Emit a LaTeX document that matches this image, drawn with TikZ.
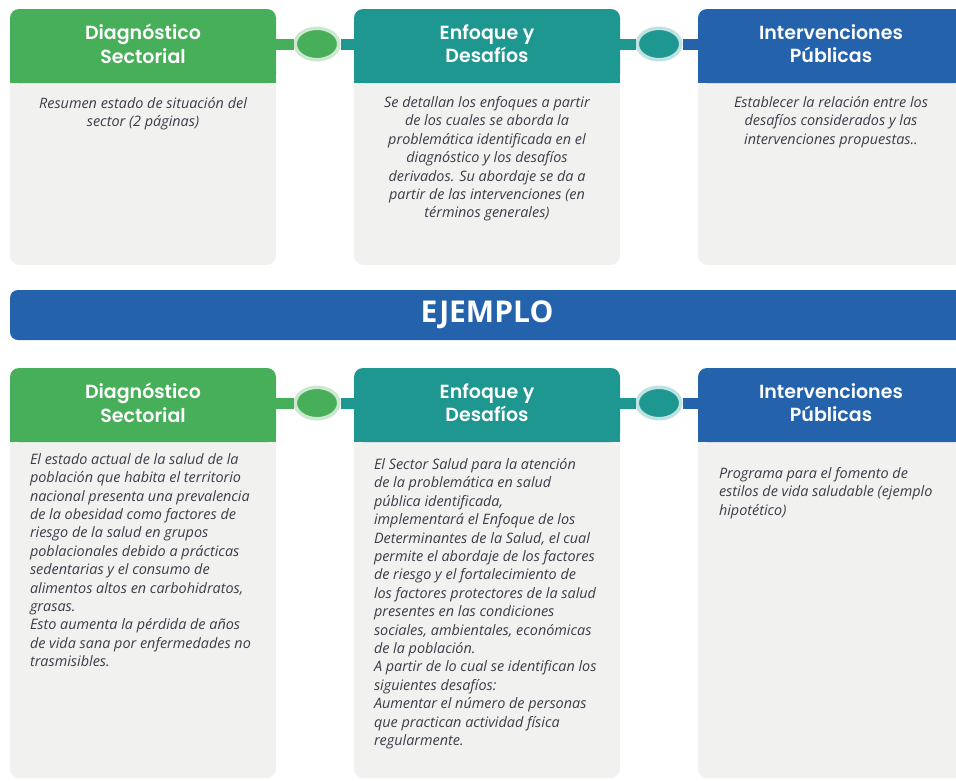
\documentclass[tikz,border=0pt]{standalone}
\usepackage{fontspec}
\setmainfont{Open Sans}
\newfontfamily\mtheadfont{Poppins}[BoldFont={Poppins SemiBold}]
\usepackage{tikz}
\usetikzlibrary{positioning,shapes.geometric}
\definecolor{mtgreen}{HTML}{47AE5A}
\definecolor{mtteal}{HTML}{1F9791}
\definecolor{mtblue}{HTML}{2462AC}
\definecolor{mtgray}{HTML}{F1F1F0}
\definecolor{mttext}{HTML}{3C3C48}
\definecolor{mtgreenhalo}{HTML}{CDE8D0}
\definecolor{mttealhalo}{HTML}{BFE3E3}
\tikzset{
 mt head/.style={fill=#1,rounded corners=9pt,minimum width=266pt,minimum height=74pt,
                 inner sep=0pt,text=white,align=center,text depth=5pt,
                 font=\mtheadfont\bfseries\fontsize{19}{23.5}\selectfont},
 mt body/.style={fill=mtgray,rounded corners=10pt,minimum width=266pt,inner sep=0pt,anchor=north},
 mt text/.style={inner sep=0pt,text=mttext,font=\itshape\fontsize{14.4}{18.4}\selectfont},
 mt bar/.style={line width=11pt,#1},
 mt knot/.style={ellipse,fill=#1,minimum width=43.5pt,minimum height=31.5pt,
                 inner sep=0pt,line width=3.5pt}
}

\begin{document}
\begin{tikzpicture}[x=1pt,y=-1pt]
 \useasboundingbox (0,0) rectangle (956,780);
 \clip (0,0) rectangle (956,780);

 \node[mt body,minimum height=219pt] (b1) at (143,46) {};
 \node[mt body,minimum height=219pt] (b2) at (487,46) {};
 \node[mt body,minimum height=219pt] (b3) at (831,46) {};
 \node[mt body,minimum height=373pt] (b4) at (143,405) {};
 \node[mt body,minimum height=373pt] (b5) at (487,405) {};
 \node[mt body,minimum height=373pt] (b6) at (831,405) {};

 \node[mt head=mtgreen] (h1) at (143,46) {Diagnóstico\\Sectorial};
 \node[mt head=mtteal] (h2) at (487,46) {Enfoque y\\Desafíos};
 \node[mt head=mtblue] (h3) at (831,46) {Intervenciones\\Públicas};
 \node[mt head=mtgreen] (h4) at (143,405) {Diagnóstico\\Sectorial};
 \node[mt head=mtteal] (h5) at (487,405) {Enfoque y\\Desafíos};
 \node[mt head=mtblue] (h6) at (831,405) {Intervenciones\\Públicas};
 \fill[mtgreen] ([yshift=12pt]h1.south west) rectangle (h1.south east);
 \fill[mtteal] ([yshift=12pt]h2.south west) rectangle (h2.south east);
 \fill[mtblue] ([yshift=12pt]h3.south west) rectangle (h3.south east);
 \fill[mtgreen] ([yshift=12pt]h4.south west) rectangle (h4.south east);
 \fill[mtteal] ([yshift=12pt]h5.south west) rectangle (h5.south east);
 \fill[mtblue] ([yshift=12pt]h6.south west) rectangle (h6.south east);

 \node[mt knot=mtgreen,draw=mtgreenhalo] (k1) at (317,44) {};
 \node[mt knot=mtteal,draw=mttealhalo] (k2) at (659,44) {};
 \node[mt knot=mtgreen,draw=mtgreenhalo] (k3) at (317,403) {};
 \node[mt knot=mtteal,draw=mttealhalo] (k4) at (659,403) {};
 \draw[mt bar=mtgreen] (h1.east |- k1) -- (k1.west);
 \draw[mt bar=mtteal] (k1.east) -- (h2.west |- k1);
 \draw[mt bar=mtteal] (h2.east |- k2) -- (k2.west);
 \draw[mt bar=mtblue] (k2.east) -- (h3.west |- k2);
 \draw[mt bar=mtgreen] (h4.east |- k3) -- (k3.west);
 \draw[mt bar=mtteal] (k3.east) -- (h5.west |- k3);
 \draw[mt bar=mtteal] (h5.east |- k4) -- (k4.west);
 \draw[mt bar=mtblue] (k4.east) -- (h6.west |- k4);

 \node[fill=mtblue,rounded corners=8pt,minimum width=954pt,minimum height=50pt,text=white,
       font=\bfseries\fontsize{30}{32}\selectfont] (ej) at (487,315) {EJEMPLO};

 \node[mt text,align=center,below=14pt of h1] (t1) {Resumen estado de situación del\\sector (2 páginas)};
 \node[mt text,align=center,below=13pt of h2] (t2) {Se detallan los enfoques a partir\\de los cuales se aborda la\\problemática identificada en el\\diagnóstico y los desafíos\\derivados. Su abordaje se da a\\partir de las intervenciones (en\\términos generales)};
 \node[mt text,align=center,below=13pt of h3] (t3) {Establecer la relación entre los\\desafíos considerados y las\\intervenciones propuestas..};

 \node[mt text,align=left,below right=11pt and 20pt of h4.south west] (t4) {El estado actual de la salud de la\\población que habita el territorio\\nacional presenta una prevalencia\\de la obesidad como factores de\\riesgo de la salud en grupos\\poblacionales debido a prácticas\\sedentarias y el consumo de\\alimentos altos en carbohidratos,\\grasas.\\Esto aumenta la pérdida de años\\de vida sana por enfermedades no\\trasmisibles.};
 \node[mt text,align=left,below right=16pt and 20pt of h5.south west] (t5) {El Sector Salud para la atención\\de la problemática en salud\\pública identificada,\\implementará el Enfoque de los\\Determinantes de la Salud, el cual\\permite el abordaje de los factores\\de riesgo y el fortalecimiento de\\los factores protectores de la salud\\presentes en las condiciones\\sociales, ambientales, económicas\\de la población.\\A partir de lo cual se identifican los\\siguientes desafíos:\\Aumentar el número de personas\\que practican actividad física\\regularmente.};
 \node[mt text,align=left,below right=25pt and 21pt of h6.south west] (t6) {Programa para el fomento de\\estilos de vida saludable (ejemplo\\hipotético)};
\end{tikzpicture}
\end{document}
